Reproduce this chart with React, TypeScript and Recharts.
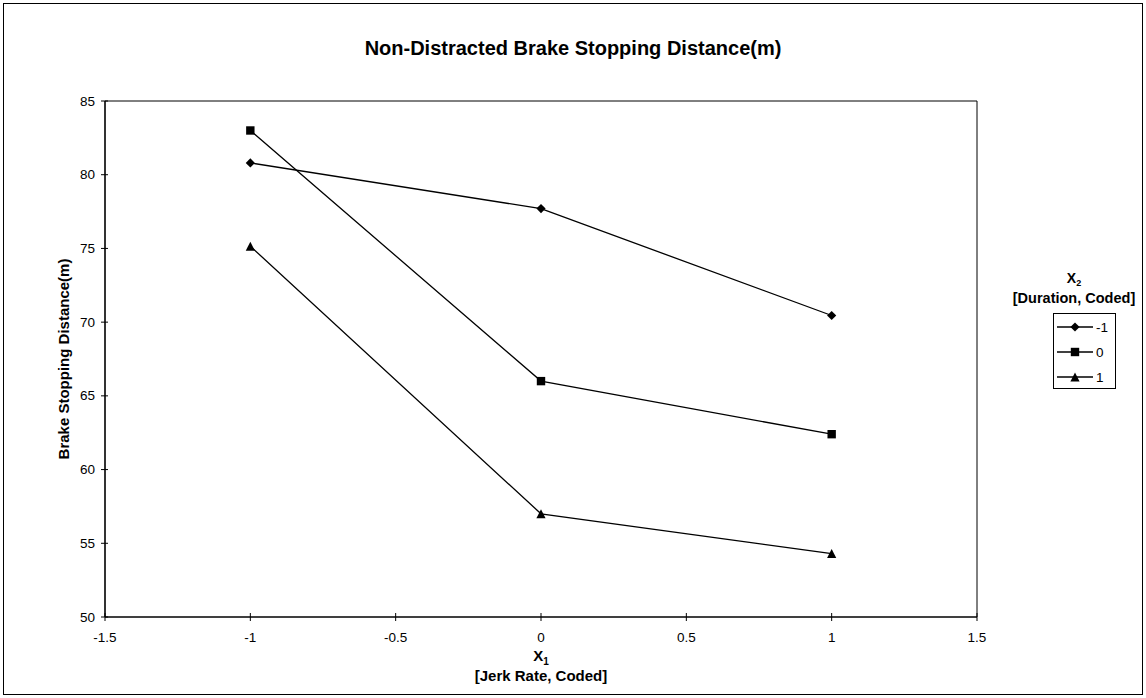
import React from 'react';
import { LineChart, Line, XAxis, YAxis, ReferenceArea } from 'recharts';

// ---- data ----
const x1Values = [-1, 0, 1];
const durationNeg1 = [80.8, 77.7, 70.45];
const duration0 = [83.0, 66.0, 62.4];
const duration1 = [75.15, 57.0, 54.3];
const seriesNames = ['-1', '0', '1'];
const xTicks = [-1.5, -1, -0.5, 0, 0.5, 1, 1.5];
const yTicks = [50, 55, 60, 65, 70, 75, 80, 85];

const chartTitle = 'Non-Distracted Brake Stopping Distance(m)';
const yTitle = 'Brake Stopping Distance(m)';
const xTitleSub = '1';
const xTitle2 = '[Jerk Rate, Coded]';
const legendSub = '2';
const legendTitle2 = '[Duration, Coded]';

const data = x1Values.map((x, i) => ({
  x,
  s0: durationNeg1[i],
  s1: duration0[i],
  s2: duration1[i],
}));

const FONT = '"Liberation Sans", Arial, sans-serif';
const W = 1146;
const H = 698;

type Shape = 'diamond' | 'square' | 'triangle';

function markerPath(shape: Shape, cx: number, cy: number): string {
  if (shape === 'diamond') {
    const r = 4.6;
    return `M${cx},${cy - r}L${cx + r},${cy}L${cx},${cy + r}L${cx - r},${cy}Z`;
  }
  if (shape === 'square') {
    const r = 4.2;
    return `M${cx - r},${cy - r}H${cx + r}V${cy + r}H${cx - r}Z`;
  }
  const h = 4.5;
  return `M${cx},${cy - h}L${cx + 4.6},${cy + h}L${cx - 4.6},${cy + h}Z`;
}

const makeDot = (shape: Shape) => (props: any) => {
  const { cx, cy, index } = props;
  if (cx == null || cy == null) return <g key={`e${index}`} />;
  return <path key={`${shape}${index}`} d={markerPath(shape, cx, cy)} fill="#000" stroke="none" />;
};

const YTick = (props: any) => {
  const { x, y, payload } = props;
  const axisX = x + 10;
  return (
    <g>
      <line x1={axisX - 4} x2={axisX + 3} y1={y} y2={y} stroke="#000" strokeWidth={1} />
      <text x={x} y={y} textAnchor="end" dominantBaseline="central" fontSize={13.5} fontFamily={FONT} fill="#000">
        {String(payload.value)}
      </text>
    </g>
  );
};

const XTick = (props: any) => {
  const { x, y, payload } = props;
  const axisY = y - 10;
  return (
    <g>
      <line x1={x} x2={x} y1={axisY - 4} y2={axisY + 4} stroke="#000" strokeWidth={1} />
      <text x={x} y={axisY + 25} textAnchor="middle" fontSize={13.5} fontFamily={FONT} fill="#000">
        {String(payload.value)}
      </text>
    </g>
  );
};

const shapes: Shape[] = ['diamond', 'square', 'triangle'];
const keys = ['s0', 's1', 's2'];

export default function App() {
  return (
    <div style={{ position: 'absolute', left: 0, top: 0, width: W, height: H, background: '#fff' }}>
      <LineChart
        width={W}
        height={H}
        data={data}
        margin={{ top: 101, right: 169, bottom: 51, left: 0 }}
      >
        <ReferenceArea x1={-1.5} x2={1.5} y1={50} y2={85} fill="none" stroke="#000" strokeWidth={1} ifOverflow="visible" />
        <XAxis
          type="number"
          dataKey="x"
          domain={[-1.5, 1.5]}
          ticks={xTicks}
          height={30}
          tickSize={4}
          tickMargin={6}
          tickLine={false}
          axisLine={{ stroke: '#000', strokeWidth: 1.2 }}
          tick={<XTick />}
          allowDataOverflow
        />
        <YAxis
          type="number"
          domain={[50, 85]}
          ticks={yTicks}
          width={105}
          tickSize={4}
          tickMargin={6}
          tickLine={false}
          axisLine={{ stroke: '#000', strokeWidth: 1.2 }}
          tick={<YTick />}
          allowDataOverflow
        />
        {keys.map((k, i) => (
          <Line
            key={k}
            type="linear"
            dataKey={k}
            name={seriesNames[i]}
            stroke="#000"
            strokeWidth={1.3}
            dot={makeDot(shapes[i])}
            activeDot={false}
            isAnimationActive={false}
          />
        ))}
      </LineChart>
      <svg
        width={W}
        height={H}
        style={{ position: 'absolute', left: 0, top: 0, pointerEvents: 'none' }}
        fontFamily={FONT}
      >
        <rect x={3.5} y={3.5} width={W - 7} height={H - 7} fill="none" stroke="#000" strokeWidth={1} />
        <text x={573} y={55} textAnchor="middle" fontSize={20} fontWeight="bold" fill="#000">
          {chartTitle}
        </text>
        <text
          transform="translate(63,359) rotate(-90)"
          textAnchor="middle"
          dominantBaseline="central"
          fontSize={15}
          fontWeight="bold"
          fill="#000"
        >
          {yTitle}
        </text>
        <text x={541} y={661} textAnchor="middle" fontSize={15} fontWeight="bold" fill="#000">
          X<tspan fontSize={10} dy={4}>{xTitleSub}</tspan>
        </text>
        <text x={541} y={681} textAnchor="middle" fontSize={15} fontWeight="bold" fill="#000">
          {xTitle2}
        </text>
        <text x={1074} y={283} textAnchor="middle" fontSize={14} fontWeight="bold" fill="#000">
          X<tspan fontSize={9} dy={3}>{legendSub}</tspan>
        </text>
        <text x={1074} y={303} textAnchor="middle" fontSize={14.5} fontWeight="bold" fill="#000">
          {legendTitle2}
        </text>
        <rect x={1053.5} y={313.5} width={62} height={75} fill="#fff" stroke="#000" strokeWidth={1} />
        {seriesNames.map((n, i) => {
          const cy = 327 + i * 25;
          return (
            <g key={n}>
              <line x1={1057} x2={1093} y1={cy} y2={cy} stroke="#000" strokeWidth={1.3} />
              <path d={markerPath(shapes[i], 1075, cy)} fill="#000" />
              <text x={1096} y={cy} dominantBaseline="central" fontSize={13.5} fill="#000">
                {n}
              </text>
            </g>
          );
        })}
      </svg>
    </div>
  );
}
